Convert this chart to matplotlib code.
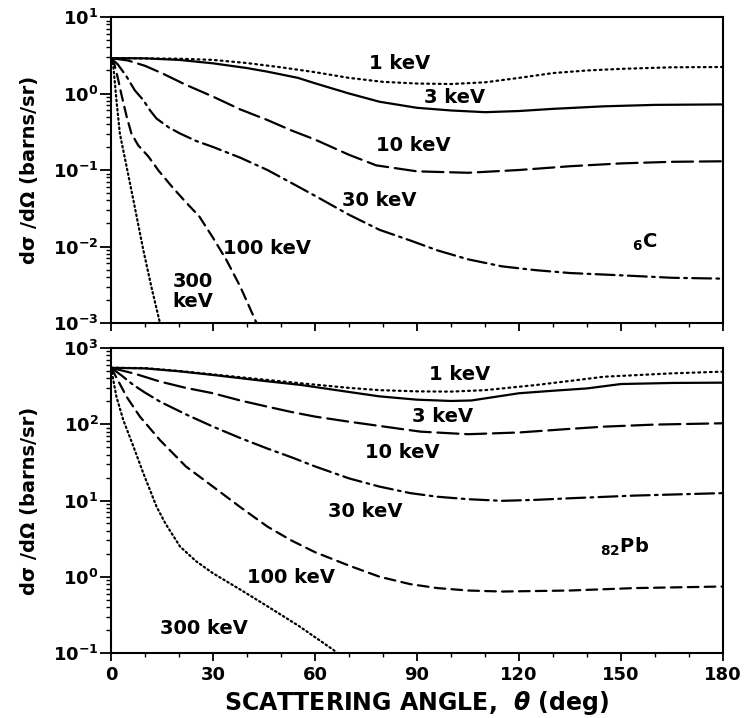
import matplotlib
matplotlib.use("Agg")
import matplotlib.pyplot as plt
from matplotlib.ticker import FixedLocator, FuncFormatter, MultipleLocator, LogLocator, NullFormatter

plt.rcParams['font.family'] = ['DejaVu Sans']
plt.rcParams['font.weight'] = 'bold'
plt.rcParams['mathtext.fontset'] = 'dejavusans'

# ---------------- data: carbon (top panel) ----------------
c1_ang = [0, 20, 30, 40, 50, 60, 70, 80, 90, 100, 110, 120, 130, 140, 150, 165, 180]
c1_val = [2.9, 2.85, 2.75, 2.5, 2.2, 1.9, 1.6, 1.42, 1.35, 1.33, 1.4, 1.6, 1.85, 2.0, 2.1, 2.2, 2.22]

c3_ang = [0, 10, 20, 30, 40, 46, 55, 60, 70, 79, 90, 100, 110, 120, 130, 145, 160, 180]
c3_val = [2.9, 2.88, 2.75, 2.48, 2.15, 1.93, 1.6, 1.36, 1.0, 0.78, 0.65, 0.6, 0.57, 0.59, 0.63, 0.68, 0.71, 0.72]

c10_ang = [0, 5, 10, 15, 22, 30, 38, 46, 53, 60, 70, 78, 90, 105, 120, 135, 150, 165, 180]
c10_val = [2.9, 2.7, 2.3, 1.84, 1.3, 0.91, 0.62, 0.45, 0.33, 0.25, 0.158, 0.115, 0.096, 0.092, 0.1, 0.112, 0.122, 0.128, 0.13]

c30_ang = [0, 2, 4.6, 7, 9.5, 11.5, 13.4, 17, 20.3, 25, 30, 38, 46, 53, 60, 70, 79, 88, 96, 105, 115, 125, 135, 150, 165, 180]
c30_val = [2.9, 2.4, 1.66, 1.1, 0.82, 0.6, 0.47, 0.36, 0.30, 0.24, 0.20, 0.145, 0.1, 0.068, 0.046, 0.026, 0.0165,
           0.012, 0.0089, 0.0068, 0.0055, 0.0049, 0.0045, 0.0042, 0.0039, 0.0038]

c100_ang = [0, 1, 2, 3, 4.6, 6, 8, 11, 14, 18, 22, 26, 30, 34, 38, 42.8]
c100_val = [2.9, 2.4, 1.6, 1.0, 0.5, 0.3, 0.21, 0.15, 0.098, 0.060, 0.038, 0.0246, 0.013, 0.0066, 0.003, 0.001]

c300_ang = [0, 0.7, 1.6, 2.6, 4.6, 6.6, 9.5, 12, 14.4]
c300_val = [2.9, 2.24, 0.82, 0.30, 0.11, 0.04, 0.009, 0.0028, 0.001]

# ---------------- data: lead (bottom panel) ----------------
p1_ang = [0, 10, 20, 30, 45, 56, 70, 79, 90, 100, 110, 125, 135, 145, 165, 180]
p1_val = [550, 545, 500, 450, 385, 344, 300, 280, 270, 268, 280, 327, 370, 420, 465, 490]

p3_ang = [0, 10, 20, 30, 45, 56, 70, 79, 90, 100, 106, 120, 130, 140, 150, 165, 180]
p3_val = [550, 540, 495, 443, 370, 327, 265, 232, 210, 202, 205, 255, 275, 295, 337, 348, 351]

p10_ang = [0, 7, 14.4, 22, 30, 38, 46, 53, 60, 70, 79, 91, 105, 120, 135, 145, 160, 180]
p10_val = [550, 460, 363, 300, 255, 205, 170, 145, 126, 108, 95, 80, 74, 78, 87, 93, 99, 103]

p30_ang = [0, 3, 6.6, 10, 14.4, 22, 30, 38, 46, 53, 60, 70, 79, 88, 96, 105, 115, 125, 135, 154, 180]
p30_val = [550, 440, 327, 260, 198, 135, 93, 66, 48, 37, 28, 19.5, 15.2, 12.5, 11.2, 10.4, 9.9, 10.2, 10.7, 11.6, 12.5]

p100_ang = [0, 2, 4.6, 8.5, 14.4, 22, 30, 38, 46, 53, 60, 70, 79, 88, 96, 105, 115, 135, 154, 180]
p100_val = [550, 380, 229, 126, 62, 28, 15.2, 8.2, 4.55, 3.0, 2.1, 1.4, 1.0, 0.8, 0.71, 0.66, 0.64, 0.66, 0.71, 0.745]

p300_ang = [0, 1.6, 3.6, 6.6, 9.5, 13.4, 16, 20.3, 25, 30, 38, 46, 55, 65.4, 66.5]
p300_val = [550, 229, 114, 51, 22.8, 8.3, 5.0, 2.49, 1.6, 1.11, 0.68, 0.41, 0.23, 0.11, 0.1]

energies = ['1 keV', '3 keV', '10 keV', '30 keV', '100 keV', '300 keV']

# line styles (dash patterns)
styles = [
    dict(linestyle=(0, (0.8, 1.8)), lw=1.6),
    dict(linestyle='-', lw=1.6),
    dict(linestyle=(0, (9.5, 3.0)), lw=1.6),
    dict(linestyle=(0, (8.5, 2.4, 1.2, 2.4)), lw=1.6),
    dict(linestyle=(0, (4.8, 2.8)), lw=1.6),
    dict(linestyle=(0, (0.7, 1.4)), lw=1.6),
]

fig = plt.figure(figsize=(7.46, 7.18), dpi=100)
ax1 = fig.add_axes([111/746, 1-323/718, 612/746, 306/718])
ax2 = fig.add_axes([111/746, 1-653/718, 612/746, 305/718])

top_data = [(c1_ang, c1_val), (c3_ang, c3_val), (c10_ang, c10_val),
            (c30_ang, c30_val), (c100_ang, c100_val), (c300_ang, c300_val)]
bot_data = [(p1_ang, p1_val), (p3_ang, p3_val), (p10_ang, p10_val),
            (p30_ang, p30_val), (p100_ang, p100_val), (p300_ang, p300_val)]

for (a, v), st in zip(top_data, styles):
    ax1.plot(a, v, color='black', dash_capstyle='round', solid_capstyle='butt', **st)
for (a, v), st in zip(bot_data, styles):
    ax2.plot(a, v, color='black', dash_capstyle='round', solid_capstyle='butt', **st)

def fmt(y, pos):
    import math
    e = int(round(math.log10(y)))
    return r'$\mathbf{10^{%d}}$' % e

for ax, lo, hi in [(ax1, -3, 1), (ax2, -1, 3)]:
    ax.set_yscale('log')
    ax.set_ylim(10**lo, 10**hi)
    ax.set_xlim(0, 180)
    ax.yaxis.set_major_locator(FixedLocator([10.0**k for k in range(lo, hi+1)]))
    ax.yaxis.set_major_formatter(FuncFormatter(fmt))
    ax.yaxis.set_minor_locator(LogLocator(base=10, subs=range(2, 10), numticks=20))
    ax.yaxis.set_minor_formatter(NullFormatter())
    ax.xaxis.set_major_locator(MultipleLocator(30))
    ax.xaxis.set_minor_locator(MultipleLocator(10))
    ax.tick_params(axis='y', which='major', direction='out', length=8, width=1.3, labelsize=13, pad=1)
    ax.tick_params(axis='y', which='minor', direction='out', length=3.5, width=1.0)
    ax.tick_params(axis='x', which='major', direction='out', length=6, width=1.3, labelsize=13, pad=3)
    ax.tick_params(axis='x', which='minor', direction='out', length=3, width=1.0)
    for s in ax.spines.values():
        s.set_linewidth(1.5)
    ax.set_ylabel('dσ /dΩ (barns/sr)', fontsize=14, fontweight='bold')
    ax.yaxis.set_label_coords(-0.118, 0.5)

ax1.tick_params(axis='x', labelbottom=False)
ax2.set_xticklabels([str(int(t)) for t in ax2.get_xticks()], fontweight='bold')
ax2.set_xlabel(r'SCATTERING ANGLE,  $\theta$ (deg)', fontsize=17, fontweight='bold')
ax2.xaxis.set_label_coords(0.5, -0.165)
ax2.xaxis.label.set_va('center')

lab_kw = dict(fontsize=14, fontweight='bold', ha='center', va='center')
top_lab_pos = [(85, 2.5), (101, 0.9), (89, 0.21), (79, 0.04), (46, 0.0095), (24, 0.0026)]
top_lab_txt = ['1 keV', '3 keV', '10 keV', '30 keV', '100 keV', '300\nkeV']
for (x, y), t in zip(top_lab_pos, top_lab_txt):
    ax1.text(x, y, t, linespacing=1.1, **lab_kw)
ax1.text(157, 0.0115, r'$\mathbf{{}_{6}}$C', **lab_kw)

bot_lab_pos = [(102.6, 443), (97.6, 125), (85.6, 42), (74.7, 7.1), (53, 0.98), (27.4, 0.21)]
for (x, y), t in zip(bot_lab_pos, energies):
    ax2.text(x, y, t, **lab_kw)
ax2.text(151, 2.45, r'$\mathbf{{}_{82}}$Pb', **lab_kw)

fig.savefig('out.png', dpi=100)
